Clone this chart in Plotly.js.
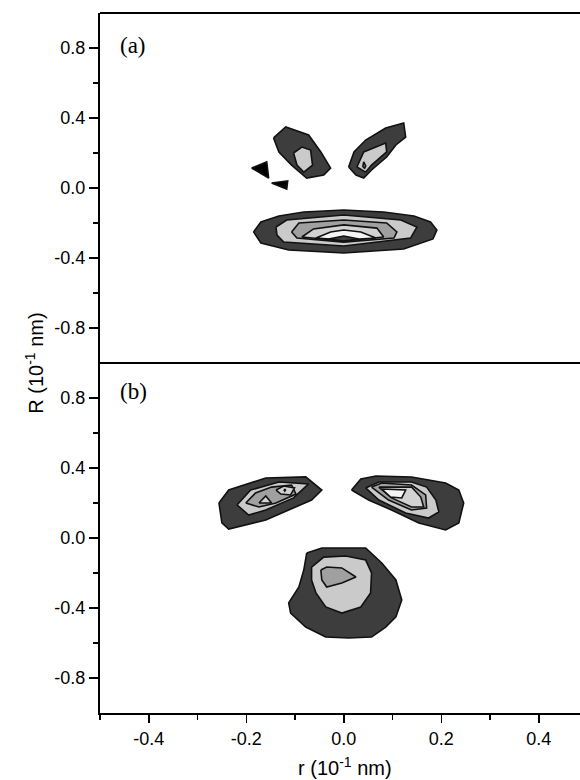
<!DOCTYPE html>
<html>
<head>
<meta charset="utf-8">
<script src="https://cdn.plot.ly/plotly-3.0.1.min.js"></script>
<style>html,body{margin:0;padding:0;background:#fff;}#chart{width:580px;height:780px;}</style>
</head>
<body>
<div id="chart"></div>
<script>
// ---- Axis ticks ----
const xTickVals = [-0.4, -0.2, 0.0, 0.2, 0.4];
const xTickText = ["-0.4", "-0.2", "0.0", "0.2", "0.4"];
const xMinorVals = [-0.5, -0.3, -0.1, 0.1, 0.3];
const yTickVals = [0.8, 0.4, 0.0, -0.4, -0.8];
const yTickText = ["0.8", "0.4", "0.0", "-0.4", "-0.8"];
const yMinorVals = [0.6, 0.2, -0.2, -0.6];

// ---- Panel (a): contour regions (r, R) ----
// lower blob, levels 1..6
const a_low1_x = [-0.185, -0.170, -0.133, -0.082, 0.000, 0.082, 0.144, 0.178, 0.191, 0.183, 0.123, 0.000, -0.113, -0.170];
const a_low1_y = [-0.251, -0.194, -0.160, -0.137, -0.126, -0.137, -0.160, -0.194, -0.240, -0.291, -0.349, -0.371, -0.354, -0.314];
const a_low2_x = [-0.139, -0.117, 0.000, 0.117, 0.150, 0.137, 0.000, -0.123, -0.137];
const a_low2_y = [-0.223, -0.183, -0.154, -0.183, -0.223, -0.286, -0.331, -0.309, -0.269];
const a_low3_x = [-0.107, -0.092, 0.000, 0.088, 0.109, 0.103, 0.000, -0.096];
const a_low3_y = [-0.251, -0.200, -0.183, -0.200, -0.251, -0.286, -0.309, -0.286];
const a_low4_x = [-0.086, -0.062, 0.000, 0.068, 0.082, 0.000];
const a_low4_y = [-0.280, -0.234, -0.211, -0.229, -0.280, -0.303];
const a_low5_x = [-0.057, -0.027, 0.000, 0.035, 0.066, 0.000];
const a_low5_y = [-0.286, -0.251, -0.240, -0.251, -0.286, -0.297];
const a_low6_x = [-0.031, 0.000, 0.031, 0.000];
const a_low6_y = [-0.291, -0.274, -0.291, -0.303];
// upper-left lobe
const a_ul1_x = [-0.144, -0.119, -0.072, -0.047, -0.027, -0.041, -0.076, -0.107, -0.133];
const a_ul1_y = [0.286, 0.349, 0.303, 0.206, 0.114, 0.074, 0.057, 0.131, 0.206];
const a_ul2_x = [-0.103, -0.086, -0.068, -0.064, -0.082, -0.096];
const a_ul2_y = [0.200, 0.234, 0.217, 0.131, 0.091, 0.131];
// upper-right lobe
const a_ur1_x = [0.010, 0.021, 0.045, 0.086, 0.123, 0.127, 0.107, 0.088, 0.057, 0.041, 0.025];
const a_ur1_y = [0.120, 0.206, 0.274, 0.343, 0.371, 0.291, 0.246, 0.177, 0.103, 0.057, 0.074];
const a_ur2_x = [0.027, 0.041, 0.086, 0.088, 0.057, 0.045];
const a_ur2_y = [0.120, 0.206, 0.257, 0.206, 0.131, 0.091];
const a_ur3_x = [0.039, 0.041, 0.045, 0.043];
const a_ur3_y = [0.120, 0.149, 0.126, 0.114];
// negative (black) regions
const a_neg1_x = [-0.189, -0.158, -0.154];
const a_neg1_y = [0.114, 0.149, 0.057];
const a_neg2_x = [-0.148, -0.115, -0.117];
const a_neg2_y = [0.029, 0.040, -0.006];

// ---- Panel (b) ----
// left lobe
const b_l1_x = [-0.256, -0.236, -0.160, -0.078, -0.045, -0.066, -0.113, -0.160, -0.236, -0.250];
const b_l1_y = [0.200, 0.274, 0.343, 0.349, 0.274, 0.217, 0.160, 0.103, 0.051, 0.086];
const b_l2_x = [-0.219, -0.191, -0.133, -0.072, -0.103, -0.160, -0.195];
const b_l2_y = [0.189, 0.274, 0.320, 0.309, 0.229, 0.160, 0.131];
const b_l3_x = [-0.201, -0.181, -0.148, -0.107, -0.098, -0.139, -0.174];
const b_l3_y = [0.200, 0.257, 0.291, 0.303, 0.251, 0.200, 0.177];
const b_l4a_x = [-0.174, -0.160, -0.148];
const b_l4a_y = [0.200, 0.240, 0.200];
const b_l4b_x = [-0.139, -0.123, -0.101, -0.109, -0.129];
const b_l4b_y = [0.274, 0.297, 0.286, 0.246, 0.251];
const b_l5_x = [-0.123, -0.119, -0.121];
const b_l5_y = [0.277, 0.277, 0.268];
// right lobe
const b_r1_x = [0.016, 0.035, 0.066, 0.139, 0.209, 0.236, 0.246, 0.236, 0.209, 0.154, 0.098, 0.051];
const b_r1_y = [0.274, 0.337, 0.354, 0.349, 0.314, 0.274, 0.200, 0.086, 0.046, 0.086, 0.160, 0.217];
const b_r2_x = [0.045, 0.072, 0.139, 0.170, 0.189, 0.195, 0.174, 0.127, 0.072];
const b_r2_y = [0.286, 0.320, 0.320, 0.291, 0.217, 0.149, 0.114, 0.143, 0.217];
const b_r3_x = [0.057, 0.078, 0.139, 0.168, 0.170, 0.139, 0.092];
const b_r3_y = [0.291, 0.314, 0.303, 0.246, 0.171, 0.160, 0.217];
const b_r4_x = [0.072, 0.139, 0.158, 0.164, 0.139, 0.098];
const b_r4_y = [0.291, 0.291, 0.234, 0.177, 0.177, 0.229];
const b_r5_x = [0.078, 0.127, 0.119, 0.096];
const b_r5_y = [0.280, 0.274, 0.229, 0.234];
// lower blob
const b_c1_x = [-0.076, -0.045, 0.045, 0.078, 0.107, 0.119, 0.107, 0.086, 0.057, 0.010, -0.037, -0.078, -0.109, -0.113, -0.092, -0.082];
const b_c1_y = [-0.086, -0.057, -0.057, -0.143, -0.240, -0.354, -0.451, -0.509, -0.566, -0.571, -0.566, -0.509, -0.429, -0.371, -0.280, -0.183];
const b_c2_x = [-0.066, -0.041, 0.004, 0.045, 0.057, 0.055, 0.035, -0.004, -0.037, -0.057, -0.066];
const b_c2_y = [-0.166, -0.109, -0.103, -0.126, -0.200, -0.314, -0.394, -0.429, -0.394, -0.314, -0.240];
const b_c3_x = [-0.047, -0.035, -0.004, 0.025, -0.004, -0.035, -0.045];
const b_c3_y = [-0.183, -0.166, -0.171, -0.223, -0.257, -0.280, -0.240];

// ---- Styles ----
const C1 = '#3d3d3d', C2 = '#cacaca', C3 = '#a0a0a0', C4 = '#d2d2d2', C5 = '#f4f4f4', C6 = '#3d3d3d', CNEG = '#000000';

function poly(xs, ys, fill, ax) {
  return {
    type: 'scatter', mode: 'lines',
    x: xs.concat([xs[0]]), y: ys.concat([ys[0]]),
    fill: 'toself', fillcolor: fill,
    line: {color: '#111111', width: 1.6},
    xaxis: 'x', yaxis: ax, hoverinfo: 'skip', showlegend: false
  };
}

const traces = [
  poly(a_low1_x, a_low1_y, C1, 'y'),
  poly(a_low2_x, a_low2_y, C2, 'y'),
  poly(a_low3_x, a_low3_y, C3, 'y'),
  poly(a_low4_x, a_low4_y, C4, 'y'),
  poly(a_low5_x, a_low5_y, C5, 'y'),
  poly(a_low6_x, a_low6_y, C6, 'y'),
  poly(a_ul1_x, a_ul1_y, C1, 'y'),
  poly(a_ul2_x, a_ul2_y, C2, 'y'),
  poly(a_ur1_x, a_ur1_y, C1, 'y'),
  poly(a_ur2_x, a_ur2_y, C2, 'y'),
  poly(a_ur3_x, a_ur3_y, C3, 'y'),
  poly(a_neg1_x, a_neg1_y, CNEG, 'y'),
  poly(a_neg2_x, a_neg2_y, CNEG, 'y'),
  poly(b_l1_x, b_l1_y, C1, 'y2'),
  poly(b_l2_x, b_l2_y, C2, 'y2'),
  poly(b_l3_x, b_l3_y, C3, 'y2'),
  poly(b_l4a_x, b_l4a_y, C4, 'y2'),
  poly(b_l4b_x, b_l4b_y, C4, 'y2'),
  poly(b_l5_x, b_l5_y, C5, 'y2'),
  poly(b_r1_x, b_r1_y, C1, 'y2'),
  poly(b_r2_x, b_r2_y, C2, 'y2'),
  poly(b_r3_x, b_r3_y, C3, 'y2'),
  poly(b_r4_x, b_r4_y, C4, 'y2'),
  poly(b_r5_x, b_r5_y, C5, 'y2'),
  poly(b_c1_x, b_c1_y, C1, 'y2'),
  poly(b_c2_x, b_c2_y, C2, 'y2'),
  poly(b_c3_x, b_c3_y, C3, 'y2')
];

const tickFont = {family: 'Liberation Sans, Arial, sans-serif', size: 18, color: '#000'};

function yAxis(domain) {
  return {
    domain: domain, range: [-1, 1], anchor: 'x',
    showline: true, linecolor: '#000', linewidth: 2,
    ticks: 'outside', ticklen: 9, tickwidth: 1.5, tickcolor: '#000',
    tickmode: 'array', tickvals: yTickVals, ticktext: yTickText,
    tickfont: tickFont, showgrid: false, zeroline: false,
    minor: {tickmode: 'array', tickvals: yMinorVals, ticks: 'outside', ticklen: 5, tickwidth: 1.5, tickcolor: '#000', showgrid: false},
    fixedrange: true
  };
}

const layout = {
  width: 580, height: 780,
  margin: {l: 100, r: 0, t: 13, b: 67},
  paper_bgcolor: '#fff', plot_bgcolor: '#fff',
  showlegend: false,
  xaxis: {
    range: [-0.5, 0.4846], anchor: 'y2',
    showline: true, linecolor: '#000', linewidth: 2,
    ticks: 'outside', ticklen: 8, tickwidth: 1.5, tickcolor: '#000',
    tickmode: 'array', tickvals: xTickVals, ticktext: xTickText,
    tickfont: tickFont, showgrid: false, zeroline: false,
    minor: {tickmode: 'array', tickvals: xMinorVals, ticks: 'outside', ticklen: 5, tickwidth: 1.5, tickcolor: '#000', showgrid: false},
    fixedrange: true
  },
  yaxis: yAxis([0.5, 1]),
  yaxis2: yAxis([0, 0.5]),
  shapes: [
    {type: 'line', xref: 'paper', yref: 'paper', x0: 0, x1: 1, y0: 1, y1: 1, line: {color: '#000', width: 2}},
    {type: 'line', xref: 'paper', yref: 'paper', x0: 0, x1: 1, y0: 0.5, y1: 0.5, line: {color: '#000', width: 2}}
  ],
  annotations: [
    {xref: 'paper', yref: 'paper', x: 0.069, y: 0.954, text: '(a)', showarrow: false,
     font: {family: 'Liberation Serif, Times New Roman, serif', size: 23, color: '#000'}, xanchor: 'center', yanchor: 'middle'},
    {xref: 'paper', yref: 'paper', x: 0.069, y: 0.459, text: '(b)', showarrow: false,
     font: {family: 'Liberation Serif, Times New Roman, serif', size: 23, color: '#000'}, xanchor: 'center', yanchor: 'middle'},
    {xref: 'paper', yref: 'paper', x: 0.51, y: -0.077, text: 'r (10<sup>-1</sup> nm)', showarrow: false,
     font: {family: 'Liberation Sans, Arial, sans-serif', size: 20, color: '#000'}, xanchor: 'center', yanchor: 'middle'},
    {xref: 'paper', yref: 'paper', x: -0.138, y: 0.5, text: 'R (10<sup>-1</sup> nm)', showarrow: false, textangle: -90,
     font: {family: 'Liberation Sans, Arial, sans-serif', size: 20, color: '#000'}, xanchor: 'center', yanchor: 'middle'}
  ]
};

Plotly.newPlot('chart', traces, layout, {displayModeBar: false, staticPlot: true});
</script>
</body>
</html>
